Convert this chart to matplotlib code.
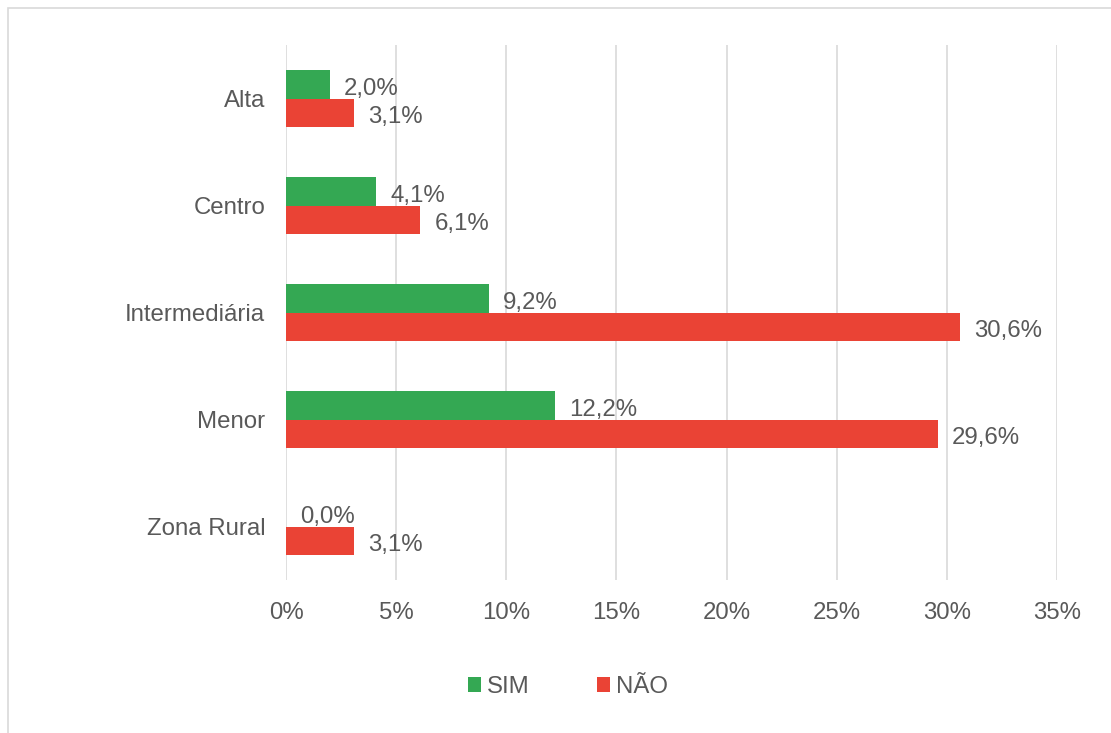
import numpy as np
import matplotlib.pyplot as plt
from matplotlib.patches import Rectangle
from matplotlib.ticker import FuncFormatter

plt.rcParams['font.family'] = ['Liberation Sans', 'DejaVu Sans']

categories = ['Alta', 'Centro', 'Intermediária', 'Menor', 'Zona Rural']
sim = [2.0, 4.1, 9.2, 12.2, 0.0]
nao = [3.1, 6.1, 30.6, 29.6, 3.1]
series_names = ['SIM', 'NÃO']

green = '#34A853'
red = '#EA4335'
text_c = '#595959'
grid_c = '#D9D9D9'
fs = 17.3

fig = plt.figure(figsize=(11.11, 7.33), dpi=100)
ax = fig.add_axes([286 / 1111, 1 - 580 / 733, (1057 - 286) / 1111, 535 / 733])

# chart frame
fig.patches.append(Rectangle((8 / 1111, -0.05), 1.2, 1 - 8 / 733 + 0.05,
                             transform=fig.transFigure, fill=False,
                             edgecolor=grid_c, linewidth=1.2))

y = np.arange(len(categories))
h = 0.262
b1 = ax.barh(y - h / 2, sim, height=h, color=green, label=series_names[0], zorder=3)
b2 = ax.barh(y + h / 2, nao, height=h, color=red, label=series_names[1], zorder=3)

for bars, vals in ((b1, sim), (b2, nao)):
    for bar, v in zip(bars, vals):
        ax.annotate(f'{v:.1f}%'.replace('.', ','),
                    (bar.get_width(), bar.get_y() + bar.get_height() / 2),
                    xytext=(10, -3), textcoords='offset points',
                    va='center', ha='left', fontsize=fs, color=text_c)

ax.set_ylim(len(categories) - 0.5, -0.5)
ax.set_xlim(0, 35)
ax.set_xticks(np.arange(0, 36, 5))
ax.xaxis.set_major_formatter(FuncFormatter(lambda v, p: f'{v:.0f}%'))
ax.set_yticks(y)
ax.set_yticklabels(categories)
ax.tick_params(axis='both', length=0, labelsize=fs, labelcolor=text_c)
ax.tick_params(axis='x', pad=16)
ax.tick_params(axis='y', pad=15)
ax.grid(axis='x', color=grid_c, linewidth=1.2, zorder=0)
ax.set_axisbelow(True)
for s in ax.spines.values():
    s.set_visible(False)

fig.legend(loc='center', bbox_to_anchor=(568 / 1111, 1 - 687 / 733), ncol=2,
           frameon=False, fontsize=fs, labelcolor=text_c,
           handlelength=0.55, handleheight=0.55, handletextpad=0.25,
           columnspacing=2.8)

fig.savefig('out.png', dpi=100)
